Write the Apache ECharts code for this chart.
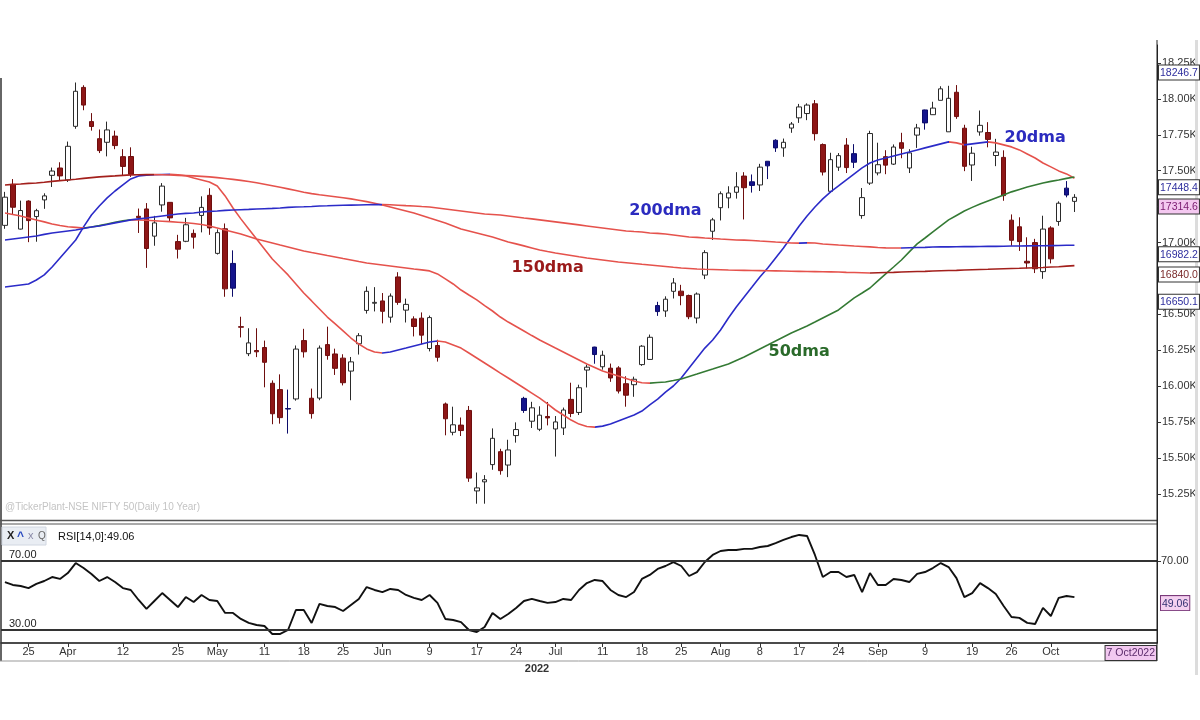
<!DOCTYPE html>
<html><head><meta charset="utf-8">
<script src="https://cdn.jsdelivr.net/npm/echarts@6/dist/echarts.min.js"></script>
<style>html,body{margin:0;padding:0;background:#fff}#c{width:1200px;height:720px}</style>
</head><body><div id="c"></div>
<script>
// ---------- DATA ----------
const dates = [
'2022-03-22','2022-03-23','2022-03-24','2022-03-25','2022-03-28','2022-03-29','2022-03-30','2022-03-31',
'2022-04-01','2022-04-04','2022-04-05','2022-04-06','2022-04-07','2022-04-08','2022-04-11','2022-04-12','2022-04-13','2022-04-18','2022-04-19','2022-04-20','2022-04-21','2022-04-22','2022-04-25','2022-04-26','2022-04-27','2022-04-28','2022-04-29',
'2022-05-02','2022-05-04','2022-05-05','2022-05-06','2022-05-09','2022-05-10','2022-05-11','2022-05-12','2022-05-13','2022-05-16','2022-05-17','2022-05-18','2022-05-19','2022-05-20','2022-05-23','2022-05-24','2022-05-25','2022-05-26','2022-05-27','2022-05-30','2022-05-31',
'2022-06-01','2022-06-02','2022-06-03','2022-06-06','2022-06-07','2022-06-08','2022-06-09','2022-06-10','2022-06-13','2022-06-14','2022-06-15','2022-06-16','2022-06-17','2022-06-20','2022-06-21','2022-06-22','2022-06-23','2022-06-24','2022-06-27','2022-06-28','2022-06-29','2022-06-30',
'2022-07-01','2022-07-04','2022-07-05','2022-07-06','2022-07-07','2022-07-08','2022-07-11','2022-07-12','2022-07-13','2022-07-14','2022-07-15','2022-07-18','2022-07-19','2022-07-20','2022-07-21','2022-07-22','2022-07-25','2022-07-26','2022-07-27','2022-07-28','2022-07-29',
'2022-08-01','2022-08-02','2022-08-03','2022-08-04','2022-08-05','2022-08-08','2022-08-10','2022-08-11','2022-08-12','2022-08-16','2022-08-17','2022-08-18','2022-08-19','2022-08-22','2022-08-23','2022-08-24','2022-08-25','2022-08-26','2022-08-29','2022-08-30',
'2022-09-01','2022-09-02','2022-09-05','2022-09-06','2022-09-07','2022-09-08','2022-09-09','2022-09-12','2022-09-13','2022-09-14','2022-09-15','2022-09-16','2022-09-19','2022-09-20','2022-09-21','2022-09-22','2022-09-23','2022-09-26','2022-09-27','2022-09-28','2022-09-29','2022-09-30',
'2022-10-03','2022-10-04','2022-10-06','2022-10-07',
'2022-10-10','2022-10-11','2022-10-12','2022-10-13','2022-10-14','2022-10-17','2022-10-18','2022-10-19','2022-10-20','2022-10-21'
];
const opens = [17120,17405,17094,17289,17181,17297,17468,17519,17436,17809,
18080,17842,17723,17698,17741,17598,17599,17183,17234,17045,
17262,17280,17007,17009,17064,17189,17329,16925,17096,16855,
16415,16227,16249,16270,16021,15977,15845,15912,16318,15917,
15918,16290,16225,16196,16106,16296,16528,16578,16594,16481,
16761,16530,16469,16474,16263,16284,15877,15680,15730,15832,
15272,15335,15455,15545,15452,15657,15916,15757,15701,15790,
15703,15710,15909,15818,16113,16273,16136,16126,16128,16018,
16011,16151,16187,16562,16524,16661,16662,16632,16475,16774,
17079,17243,17311,17350,17463,17423,17401,17566,17712,17659,
17797,17868,17898,17966,17682,17357,17525,17679,17619,17188,
17414,17485,17598,17546,17695,17519,17748,17923,17890,17990,
17771,18046,17796,17540,17770,17766,17606,17593,17156,17110,
16870,17000,16798,17102,17147,17379,17287];
const highs = [17353,17442,17292,17294,17235,17343,17522,17559,17703,18114,
18095,17901,17787,17842,17779,17650,17663,17237,17275,17186,
17414,17281,17054,17172,17091,17322,17378,17092,17133,16946,
16484,16404,16404,16318,16041,16083,15977,16284,16400,15984,
16284,16415,16262,16223,16204,16370,16695,16690,16649,16646,
16794,16610,16487,16514,16492,16324,15887,15858,15783,15863,
15400,15382,15707,15565,15628,15749,15927,15892,15861,15891,
15793,15852,16025,16011,16150,16275,16248,16158,16140,16070,
16067,16287,16360,16588,16626,16753,16706,16638,16653,16947,
17172,17356,17392,17490,17490,17474,17548,17566,17719,17724,
17839,17965,17969,17992,17690,17625,17623,17727,17685,17380,
17778,17695,17643,17683,17764,17650,17826,17925,17980,18088,
18091,18096,17820,17667,17919,17838,17722,17642,17196,17176,
17037,17026,17187,17114,17287,17428,17337];
const lows = [17096,17199,17091,17003,17006,17235,17387,17435,17422,17792,
17921,17779,17623,17600,17650,17467,17457,17067,16824,16978,
17215,17149,16889,17003,16958,17071,17054,16917,16623,16623,
16340,16210,16203,15993,15736,15740,15671,15900,16200,15775,
15903,16185,16079,16006,15903,16221,16506,16521,16438,16443,
16567,16444,16347,16293,16243,16172,15659,15659,15654,15335,
15183,15183,15419,15385,15368,15608,15815,15710,15688,15728,
15511,15661,15785,15800,15992,16157,16116,16031,15950,15858,
15927,16142,16187,16490,16483,16611,16564,16467,16438,16746,
17018,17154,17239,17306,17161,17348,17359,17442,17631,17597,
17764,17833,17852,17710,17467,17345,17499,17484,17519,17166,
17401,17468,17476,17540,17587,17484,17659,17786,17889,17990,
17771,17861,17497,17429,17744,17663,17532,17291,16978,16942,
16820,16788,16748,16855,17117,17315,17213];
const closes = [17316,17246,17223,17153,17222,17325,17498,17464,17670,18053,
17957,17808,17640,17784,17675,17530,17476,17174,16959,17137,
17393,17172,16954,17124,17038,17245,17102,17069,16678,16683,
16411,16302,16240,16167,15809,15782,15842,16259,16240,15810,
16266,16214,16125,16025,16170,16352,16661,16584,16522,16628,
16584,16570,16416,16356,16478,16202,15774,15732,15692,15361,
15293,15350,15638,15413,15557,15699,15832,15850,15799,15780,
15752,15835,15811,15990,16133,16221,16216,16058,15967,15938,
16049,16279,16341,16520,16606,16719,16631,16484,16642,16930,
17158,17340,17345,17388,17382,17398,17525,17534,17659,17698,
17825,17944,17957,17758,17491,17577,17605,17522,17559,17313,
17759,17542,17539,17665,17656,17624,17798,17833,17936,18070,
18004,17877,17531,17622,17816,17718,17630,17327,17016,17007,
16858,16818,17094,16887,17274,17331,17315];
const ma20 = [16691,16698,16705,16712,16740,16775,16830,16893,16956,17018,
17109,17192,17255,17311,17359,17401,17443,17464,17469,17472,
17474,17475,17472,17465,17450,17436,17422,17394,17325,17241,
17165,17095,17025,16956,16886,16830,16775,16712,16649,16594,
16538,16482,16434,16385,16336,16294,16260,16239,16232,16239,
16253,16266,16280,16294,16308,16315,16308,16287,16266,16232,
16197,16162,16127,16092,16058,16023,15988,15953,15918,15877,
15835,15800,15765,15737,15720,15716,15723,15737,15758,15779,
15800,15828,15870,15911,15960,16002,16058,16127,16197,16266,
16322,16392,16475,16552,16622,16691,16761,16823,16893,16963,
17039,17116,17185,17248,17304,17353,17394,17436,17478,17520,
17554,17575,17589,17603,17617,17631,17645,17659,17673,17687,
17701,17694,17680,17687,17694,17701,17694,17680,17666,17645,
17617,17589,17554,17527,17499,17478,17448];
const ma50 = [17206,17196,17185,17171,17157,17144,17130,17119,17110,17106,
17102,17108,17118,17130,17142,17152,17158,17157,17155,17152,
17149,17146,17142,17138,17133,17126,17116,17102,17088,17074,
17060,17043,17025,17011,16997,16983,16970,16956,16942,16931,
16921,16910,16900,16889,16879,16868,16858,16851,16844,16837,
16830,16823,16816,16810,16803,16782,16747,16712,16670,16635,
16601,16562,16524,16482,16447,16416,16385,16353,16322,16294,
16266,16239,16211,16183,16155,16131,16106,16089,16071,16054,
16037,16025,16022,16026,16030,16040,16051,16068,16085,16103,
16120,16138,16155,16180,16204,16232,16260,16287,16315,16343,
16371,16395,16420,16447,16475,16503,16531,16573,16615,16649,
16684,16733,16782,16830,16879,16935,16991,17032,17074,17116,
17158,17189,17220,17245,17269,17290,17311,17332,17353,17370,
17387,17401,17415,17426,17436,17447,17457];
const ma150 = [17401,17405,17408,17412,17415,17420,17426,17431,17436,17441,
17447,17452,17457,17461,17464,17468,17471,17472,17473,17473,
17472,17470,17468,17466,17464,17461,17457,17452,17446,17440,
17433,17425,17416,17406,17396,17385,17374,17362,17350,17341,
17333,17326,17319,17312,17304,17295,17285,17274,17262,17248,
17234,17220,17206,17189,17171,17154,17137,17116,17095,17081,
17067,17053,17039,17022,17004,16991,16977,16963,16949,16938,
16928,16919,16910,16901,16893,16886,16879,16872,16865,16860,
16855,16849,16844,16839,16834,16828,16823,16820,16816,16814,
16813,16811,16809,16808,16807,16806,16805,16804,16803,16802,
16801,16800,16799,16798,16797,16796,16795,16793,16792,16790,
16788,16790,16792,16793,16795,16797,16799,16800,16802,16804,
16806,16807,16809,16811,16813,16814,16816,16818,16820,16821,
16823,16825,16827,16830,16832,16836,16840];
const ma200 = [17018,17025,17032,17039,17046,17057,17067,17074,17081,17088,
17098,17109,17116,17126,17137,17147,17158,17165,17171,17178,
17185,17192,17199,17203,17206,17213,17217,17220,17224,17227,
17229,17231,17234,17236,17238,17241,17245,17248,17249,17251,
17255,17256,17258,17260,17261,17262,17263,17264,17265,17263,
17260,17257,17255,17251,17248,17241,17234,17227,17220,17213,
17206,17199,17196,17192,17185,17178,17171,17165,17158,17151,
17144,17137,17130,17123,17116,17109,17102,17095,17088,17081,
17077,17074,17067,17064,17060,17053,17046,17039,17036,17032,
17029,17025,17022,17018,17017,17015,17011,17008,17004,17001,
16997,16996,16998,16997,16990,16987,16983,16980,16976,16973,
16970,16966,16963,16962,16962,16964,16966,16967,16969,16970,
16970,16971,16972,16972,16973,16974,16974,16975,16976,16976,
16977,16978,16978,16979,16980,16981,16982];
const rsi = [57.8,56.1,55.5,54.3,56.7,58.4,60.7,59.6,63.0,68.8,
65.9,62.5,58.4,60.7,57.8,54.3,53.2,47.4,42.2,46.8,
51.4,47.4,43.3,49.1,46.2,50.3,47.4,46.8,39.9,39.9,
36.4,34.1,32.9,32.3,27.7,27.7,30.0,41.6,41.6,34.1,
45.1,43.9,43.3,41.0,44.5,48.0,54.9,53.2,52.0,53.8,
53.2,50.3,48.6,47.4,50.3,45.7,36.4,35.8,34.6,30.0,
28.8,31.7,39.9,36.4,39.3,42.8,46.8,48.0,46.8,45.7,
46.2,48.0,47.4,53.2,57.2,59.0,58.4,53.2,50.3,49.1,
52.0,59.6,61.9,65.4,67.1,69.4,67.1,61.3,63.6,69.4,
73.5,75.8,76.4,76.4,77.0,77.0,78.1,78.7,80.4,82.2,
83.9,85.1,84.5,73.5,60.7,63.6,63.6,60.7,61.9,52.0,
63.0,56.1,56.1,59.6,59.0,57.8,62.5,63.6,65.9,68.8,
66.5,60.1,49.1,51.4,57.2,54.3,50.9,43.9,37.5,37.0,
34.1,33.5,42.8,38.1,48.6,49.7,49.06];
const tickDates = ['2022-03-25','2022-04-01','2022-04-12','2022-04-25','2022-05-02','2022-05-11','2022-05-18','2022-05-25','2022-06-01','2022-06-09','2022-06-17','2022-06-24','2022-07-01','2022-07-11','2022-07-18','2022-07-25','2022-08-01','2022-08-08','2022-08-17','2022-08-24','2022-09-01','2022-09-09','2022-09-19','2022-09-26','2022-10-03'];
const tickTexts = ['25','Apr','12','25','May','11','18','25','Jun','9','17','24','Jul','11','18','25','Aug','8','17','24','Sep','9','19','26','Oct'];
const priceTicks = [15250,15500,15750,16000,16250,16500,16750,17000,17250,17500,17750,18000,18250];
const priceTags = [18246.7,17448.4,17314.6,16982.2,16840.0,16650.1];
const rsiLevels = [70,30];
const maNames = ['20dma','50dma','150dma','200dma'];

// ---------- STYLE / LAYOUT ----------
const FONT = '"Liberation Sans", Arial, sans-serif';
const RED = '#e5524c', BLUE = '#2b2bc8', GREEN = '#347a34', MAROON = '#a3201c';
const maStyle = [
  {data: ma20, up: BLUE, down: RED},
  {data: ma50, up: GREEN, down: RED},
  {data: ma150, up: MAROON, down: RED},
  {data: ma200, up: BLUE, down: RED}
];
const tagStyle = [
  {fill:'#2e2e9e', bg:'#ffffff'},
  {fill:'#2e2e9e', bg:'#ffffff'},
  {fill:'#7a1a70', bg:'#f4c8f0'},
  {fill:'#2e2e9e', bg:'#ffffff'},
  {fill:'#7a2a2a', bg:'#ffffff'},
  {fill:'#2e2e9e', bg:'#ffffff'}
];
const maLabelLayout = [
  {name:'20dma', idx:131, price:17728, color:'#2b2bbf'},
  {name:'50dma', idx:101, price:16239, color:'#2a6a2a'},
  {name:'150dma', idx:69, price:16823, color:'#9a1a1a'},
  {name:'200dma', idx:84, price:17220, color:'#2b2bbf'}
];
const TAG_FONT = '10.5px ' + FONT;

const tickMap = {};
tickDates.forEach((d, i) => { tickMap[d] = tickTexts[i]; });

function slopePieces(arr, up, down) {
  const pieces = [];
  let sign = 0, start = 0;
  for (let i = 0; i < arr.length - 1; i++) {
    const d = arr[i + 1] - arr[i];
    let s = d > 0 ? 1 : (d < 0 ? -1 : sign);
    if (s === 0) s = 1;
    if (sign === 0) sign = s;
    if (s !== sign) {
      pieces.push({gte: start, lt: i, color: sign > 0 ? up : down});
      start = i; sign = s;
    }
  }
  pieces.push({gte: start, lte: dates.length + 5, color: sign > 0 ? up : down});
  return pieces;
}

const candleData = opens.map((o, i) => {
  const c = closes[i];
  const prev = i > 0 ? closes[i - 1] : o;
  let st;
  if (c >= o) st = {color:'#ffffff', borderColor:'#2a2a2a', color0:'#ffffff', borderColor0:'#2a2a2a'};
  else if (c < prev) st = {color:'#8e1616', borderColor:'#6e0e0e', color0:'#8e1616', borderColor0:'#6e0e0e'};
  else st = {color:'#14148c', borderColor:'#0c0c6a', color0:'#14148c', borderColor0:'#0c0c6a'};
  return {value: [o, c, lows[i], highs[i]], itemStyle: st};
});

const chart = echarts.init(document.getElementById('c'), null, {renderer:'canvas'});

const series = [{
  type:'candlestick', xAxisIndex:0, yAxisIndex:0, data: candleData, barWidth:5,
  silent:true, z:2
}];
maStyle.forEach((m, k) => {
  series.push({type:'line', name: maNames[k], xAxisIndex:0, yAxisIndex:0, data: m.data,
    showSymbol:false, silent:true, smooth:false, z:3,
    lineStyle:{width:1.6}});
});
series.push({
  type:'line', name:'RSI', xAxisIndex:1, yAxisIndex:1, data: rsi, showSymbol:false, silent:true,
  lineStyle:{color:'#111', width:1.9}, itemStyle:{color:'#111'},
  markLine:{silent:true, symbol:['none','none'], animation:false,
    lineStyle:{color:'#333', width:2, type:'solid'},
    label:{show:true, position:'insideStartTop', distance:1, formatter: p => p.value.toFixed(2),
      color:'#222', fontSize:11, fontFamily:FONT, padding:[0,0,0,7]},
    data: rsiLevels.map(v => ({yAxis: v}))}
});

const visualMaps = maStyle.map((m, k) => ({
  type:'piecewise', show:false, dimension:0, seriesIndex: k + 1,
  pieces: slopePieces(m.data, m.up, m.down)
}));

const option = {
  animation:false,
  backgroundColor:'#ffffff',
  textStyle:{fontFamily:FONT},
  grid:[
    {left:1, right:43, top:45, height:485},
    {left:1, right:43, top:524, height:119}
  ],
  xAxis:[
    {type:'category', gridIndex:0, data:dates, boundaryGap:true,
     axisLine:{show:false}, axisTick:{show:false}, axisLabel:{show:false}, splitLine:{show:false}},
    {type:'category', gridIndex:1, data:dates, boundaryGap:true,
     axisLine:{show:true, lineStyle:{color:'#111', width:1.5}},
     axisTick:{show:true, alignWithLabel:true, length:4, lineStyle:{color:'#333'},
       interval:(i, v) => tickMap[v] !== undefined},
     axisLabel:{show:true, interval:(i, v) => tickMap[v] !== undefined,
       formatter: v => tickMap[v] || '', color:'#333', fontSize:11, fontFamily:FONT, margin:3},
     splitLine:{show:false}}
  ],
  yAxis:[
    {type:'value', gridIndex:0, position:'right', min:15000, max:18375, scale:true,
     axisLine:{show:true, lineStyle:{color:'#222', width:1}},
     axisTick:{show:true, length:4, customValues: priceTicks, lineStyle:{color:'#333'}},
     axisLabel:{show:true, customValues: priceTicks, formatter: v => (v/1000).toFixed(2) + 'K',
       color:'#333', fontSize:11, fontFamily:FONT, margin:5},
     splitLine:{show:false}},
    {type:'value', gridIndex:1, position:'right', min:22.46, max:91.45,
     axisLine:{show:true, lineStyle:{color:'#222', width:1}},
     axisTick:{show:true, length:4, customValues:[70], lineStyle:{color:'#333'}},
     axisLabel:{show:true, customValues:[70], formatter: v => Number(v).toFixed(2),
       color:'#333', fontSize:11, fontFamily:FONT, margin:4},
     splitLine:{show:false}}
  ],
  visualMap: visualMaps,
  series: series
};
chart.setOption(option);

// ---------- annotations (anchored via the library's scales) ----------
const g = [];
g.push({type:'line', shape:{x1:1, y1:78, x2:1, y2:661}, style:{stroke:'#333', lineWidth:1.5}, z:10});
g.push({type:'line', shape:{x1:0, y1:520.5, x2:1157, y2:520.5}, style:{stroke:'#555', lineWidth:1.5}, z:10});
g.push({type:'line', shape:{x1:0, y1:524, x2:1157, y2:524}, style:{stroke:'#555', lineWidth:1.2}, z:10});
g.push({type:'line', shape:{x1:0, y1:661, x2:1157, y2:661}, style:{stroke:'#999', lineWidth:1}, z:10});
g.push({type:'line', shape:{x1:1157, y1:40, x2:1157, y2:661}, style:{stroke:'#222', lineWidth:1}, z:10});
g.push({type:'rect', shape:{x:1195, y:40, width:3, height:635}, style:{fill:'#dcdcdc'}, z:1});

priceTags.forEach((v, i) => {
  const y = chart.convertToPixel({yAxisIndex:0}, v);
  g.push({type:'text', x:1159, y: y + 2, z:20,
    style:{text: v.toFixed(1), fill: tagStyle[i].fill, backgroundColor: tagStyle[i].bg,
      borderColor:'#333', borderWidth:1, padding:[2,1,1,1], font: TAG_FONT,
      align:'left', verticalAlign:'top'}});
});
const lastRsi = rsi[rsi.length - 1];
const ry = chart.convertToPixel({yAxisIndex:1}, lastRsi);
g.push({type:'text', x:1161, y: ry - 1, z:20,
  style:{text: lastRsi.toFixed(2), fill:'#303070', backgroundColor:'#f4d0f0',
    borderColor:'#7a3a7a', borderWidth:1, padding:[2,1,1,1], font: TAG_FONT,
    align:'left', verticalAlign:'top'}});

maLabelLayout.forEach(l => {
  const p = chart.convertToPixel({xAxisIndex:0, yAxisIndex:0}, [l.idx, l.price]);
  g.push({type:'text', x:p[0], y:p[1], z:20,
    style:{text:l.name, fill:l.color, font:'bold 16px "DejaVu Sans", Verdana, sans-serif',
      align:'center', verticalAlign:'middle'}});
});

g.push({type:'text', x:5, y:507, z:20, style:{text:'@TickerPlant-NSE NIFTY 50(Daily 10 Year)',
  fill:'#c4c4c4', font:'10px ' + FONT, align:'left', verticalAlign:'middle'}});
g.push({type:'rect', shape:{x:2, y:527, width:44, height:18}, style:{fill:'#e9edf3', stroke:'#d0d6e0'}, z:15});
g.push({type:'text', x:7, y:536, z:20, style:{text:'X', fill:'#222', font:'bold 11px ' + FONT, verticalAlign:'middle'}});
g.push({type:'text', x:17, y:537, z:20, style:{text:'^', fill:'#2b4cc0', font:'bold 12px ' + FONT, verticalAlign:'middle'}});
g.push({type:'text', x:28, y:536, z:20, style:{text:'x', fill:'#8a8aa8', font:'11px ' + FONT, verticalAlign:'middle'}});
g.push({type:'text', x:38, y:536, z:20, style:{text:'Q', fill:'#666', font:'10px ' + FONT, verticalAlign:'middle'}});
g.push({type:'text', x:58, y:537, z:20, style:{text:'RSI[14,0]:' + lastRsi.toFixed(2), fill:'#111',
  font:'11px ' + FONT, align:'left', verticalAlign:'middle'}});
g.push({type:'text', x:1156, y:646, z:20, style:{text:'7 Oct2022', fill:'#5a2a6a', backgroundColor:'#f2c8f0',
  borderColor:'#333', borderWidth:1, padding:[2,1,1,1], font: TAG_FONT, align:'right', verticalAlign:'top'}});
g.push({type:'text', x:537, y:669, z:20, style:{text:'2022', fill:'#333', font:'bold 11px ' + FONT,
  align:'center', verticalAlign:'middle'}});

chart.setOption({graphic: g});
</script>
</body></html>
